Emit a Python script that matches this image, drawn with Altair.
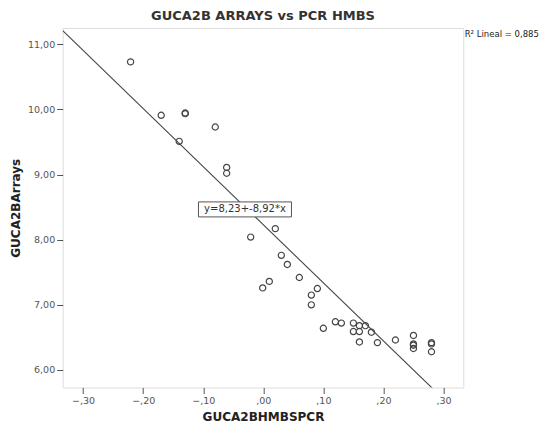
import altair as alt
import pandas as pd

# ---- data ----
x_vals = [-0.221, -0.170, -0.130, -0.130, -0.080, -0.140, -0.061, -0.061,
          0.020, -0.021, 0.030, 0.040, 0.060, 0.010, -0.001, 0.090, 0.080, 0.080,
          0.100, 0.120, 0.130, 0.150, 0.160, 0.170, 0.150, 0.160, 0.180, 0.160,
          0.190, 0.220, 0.250, 0.250, 0.250, 0.250, 0.280, 0.280, 0.280]
y_vals = [10.73, 9.91, 9.935, 9.945, 9.73, 9.51, 9.11, 9.02,
          8.17, 8.04, 7.76, 7.62, 7.42, 7.36, 7.26, 7.25, 7.15, 7.00,
          6.64, 6.74, 6.72, 6.72, 6.68, 6.68, 6.59, 6.59, 6.58, 6.43,
          6.42, 6.46, 6.53, 6.40, 6.38, 6.33, 6.42, 6.40, 6.28]

intercept = 8.23
slope = -8.92
equation_label = ["y=8,23+-8,92*x"]
equation_pos_x = [-0.0305]
equation_pos_y = [8.465]
r2_label = ["R\u00b2 Lineal = 0,885"]

x_ticks = [-0.3, -0.2, -0.1, 0.0, 0.1, 0.2, 0.3]
y_ticks = [6, 7, 8, 9, 10, 11]
x_domain = [-0.334, 0.333]
y_domain = [5.731, 11.25]

title_text = "GUCA2B ARRAYS vs PCR HMBS"
x_title = "GUCA2BHMBSPCR"
y_title = "GUCA2BArrays"

FONT = "DejaVu Sans"

pts_df = pd.DataFrame({"x": x_vals, "y": y_vals})
line_df = pd.DataFrame({"x": x_domain,
                        "y": [intercept + slope * v for v in x_domain]})
eq_df = pd.DataFrame({"x": equation_pos_x, "y": equation_pos_y, "t": equation_label})
r2_df = pd.DataFrame({"t": r2_label})

xscale = alt.Scale(domain=x_domain, nice=False, zero=False)
yscale = alt.Scale(domain=y_domain, nice=False, zero=False)

x_axis = alt.Axis(
    values=x_ticks,
    labelExpr="replace(replace(format(datum.value, '.2f'), '.', ','), '0,', ',')",
    title=x_title, grid=False, domain=False,
    tickSize=6, tickColor="#555", tickWidth=1,
    labelFont=FONT, labelFontSize=9.5, labelColor="#555", labelPadding=2,
    titleFont=FONT, titleFontSize=12, titleFontWeight="bold", titleColor="#222",
    titlePadding=6,
)
y_axis = alt.Axis(
    values=y_ticks,
    labelExpr="replace(format(datum.value, '.2f'), '.', ',')",
    title=y_title, grid=False, domain=False,
    tickSize=6, tickColor="#555", tickWidth=1,
    labelFont=FONT, labelFontSize=9.5, labelColor="#555", labelPadding=2,
    titleFont=FONT, titleFontSize=12, titleFontWeight="bold", titleColor="#222",
    titlePadding=5,
)

points = alt.Chart(pts_df).mark_point(
    shape="circle", filled=False, size=38, color="#444", strokeWidth=1.2, opacity=1
).encode(
    x=alt.X("x:Q", scale=xscale, axis=x_axis),
    y=alt.Y("y:Q", scale=yscale, axis=y_axis),
)

fit_line = alt.Chart(line_df).mark_line(
    clip=True, color="#444", strokeWidth=1.1
).encode(
    x=alt.X("x:Q", scale=xscale),
    y=alt.Y("y:Q", scale=yscale),
)

eq_box = alt.Chart(eq_df).mark_rect(
    width=93, height=15, fill="white", stroke="#555", strokeWidth=1
).encode(
    x=alt.X("x:Q", scale=xscale),
    y=alt.Y("y:Q", scale=yscale),
)

eq_text = alt.Chart(eq_df).mark_text(
    font=FONT, fontSize=10, color="#333", align="center", baseline="middle"
).encode(
    x=alt.X("x:Q", scale=xscale),
    y=alt.Y("y:Q", scale=yscale),
    text="t:N",
)

r2_text = alt.Chart(r2_df).mark_text(
    font=FONT, fontSize=8.5, color="#222", align="left", baseline="middle"
).encode(
    x=alt.value(402),
    y=alt.value(6),
    text="t:N",
)

chart = alt.layer(points, fit_line, eq_box, eq_text, r2_text).properties(
    width=400.6,
    height=359.5,
    autosize="none",
    padding={"left": 54.7, "top": 20, "right": 76.7, "bottom": 36.5},
    title=alt.TitleParams(
        text=title_text, font=FONT, fontSize=13, fontWeight="bold",
        color="#333", anchor="middle", offset=5,
    ),
).configure_view(
    fill="#f2f2f2", stroke="#6b6b6b", strokeWidth=1.5
).configure(background="white")

chart.save("out.html", embed_options={"renderer": "svg", "actions": False})
